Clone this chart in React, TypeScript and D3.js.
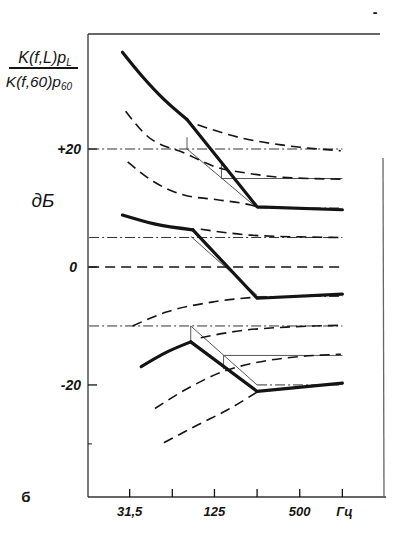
import React from "react";
import * as d3 from "d3";

// ---- data (frequency Hz, level dB) ----
const xTickFreqs = [31.5, 63, 125, 250, 500, 1000];
const xTickLabels = ["31,5", "", "125", "", "500", "Гц"];
const yTickValues = [20, 0, -20];
const yTickLabels = ["+20", "0", "-20"];
const yMinorTicks = [-30];

// thick (measured) curves: smooth low-frequency part, then straight segments from the knee
const thickTopSmooth: [number, number][] = [[28, 36.4], [39, 32.2], [55, 28.4], [80, 25.0]];
const thickTopStraight: [number, number][] = [[80, 25.0], [250, 10.2], [1000, 9.7]];
const thickMidSmooth: [number, number][] = [[28, 8.8], [47, 7.3], [88, 6.3]];
const thickMidStraight: [number, number][] = [[88, 6.3], [250, -5.3], [1000, -4.6]];
const thickBotSmooth: [number, number][] = [[38, -16.9], [58, -14.4], [85, -12.7]];
const thickBotStraight: [number, number][] = [[85, -12.7], [250, -21.1], [1000, -19.7]];

// dashed curves
const dashA: [number, number][] = [[95, 24.1], [191, 21.9], [370, 20.7], [975, 19.7]];
const dashB: [number, number][] = [[29.5, 26.4], [41, 22.4], [77, 19.3], [134, 16.8], [214, 15.9], [370, 15.2], [975, 14.9]];
const dashC: [number, number][] = [[30.5, 17.8], [47, 14.4], [76, 12.2], [131, 11.4], [225, 10.5], [250, 10.2]];
const dashD: [number, number][] = [[100, 6.4], [225, 5.4], [500, 5.1], [975, 5.0]];
const dashZero: [number, number][] = [[16.3, 0], [1000, 0]];
const dashE: [number, number][] = [[33, -10], [58, -7.6], [124, -5.9], [250, -5.1]];
const dashF: [number, number][] = [[100, -12], [191, -10.8], [400, -10.2], [975, -9.9]];
const dashG: [number, number][] = [[47.5, -24], [85, -20.3], [153, -17.5], [236, -16.3], [500, -15.2], [975, -14.8]];
const dashH: [number, number][] = [[55, -29.8], [95, -26.8], [155, -24.2], [250, -21.2]];

// dash-dot reference levels: [dB, fromHz, toHz]
const dashDotLevels: [number, number, number][] = [
  [20, 16.3, 1000], [5, 16.3, 1000], [-10, 16.3, 1000],
  [10, 250, 1000], [-5, 250, 1000], [-20, 250, 1000],
];

// thin construction lines
const thinLines: [number, number][][] = [
  [[80, 22], [80, 20], [250, 10]],
  [[140, 17.6], [140, 15], [1000, 15]],
  [[85, 5.2], [250, -4.8]],
  [[85, -10], [85, -12.7]],
  [[85, -10], [250, -20]],
  [[145, -17.3], [145, -15], [1000, -15]],
];

export default function App() {
  const x = d3.scaleLog().domain([16, 2000]).range([88, 385]);
  const y = d3.scaleLinear().domain([-39, 39.5]).range([497, 34]);
  const lin = d3.line<[number, number]>().x(d => x(d[0])).y(d => y(d[1]));
  const smooth = d3.line<[number, number]>().x(d => x(d[0])).y(d => y(d[1])).curve(d3.curveMonotoneX);
  const ink = "#141414";
  const dashed = [dashA, dashB, dashC, dashD, dashE, dashF, dashG, dashH];
  const thickPairs = [
    [thickTopSmooth, thickTopStraight],
    [thickMidSmooth, thickMidStraight],
    [thickBotSmooth, thickBotStraight],
  ];
  const font = "'Liberation Sans', Arial, sans-serif";

  return (
    <svg width={413} height={546} style={{ position: "absolute", left: 0, top: 0, background: "#fff" }}>
      <rect x={0} y={0} width={413} height={546} fill="#fff" />
      {/* frame */}
      <g stroke="#333" strokeWidth={1.3} fill="none">
        <line x1={88} y1={34} x2={380} y2={34} />
        <line x1={88} y1={34} x2={88} y2={497} />
        <line x1={88} y1={497} x2={386} y2={497} />
        <line x1={383} y1={158} x2={384} y2={497} stroke="#666" />
      </g>
      {/* y ticks */}
      {yTickValues.map((v, i) => (
        <g key={"yt" + i}>
          <line x1={88} x2={97} y1={y(v)} y2={y(v)} stroke={ink} strokeWidth={1.3} />
          <text x={i === 1 ? 77 : 81} y={y(v) + 5} textAnchor="end" fontFamily={font} fontWeight="bold"
            fontStyle="italic" fontSize={14} fill={ink}>{yTickLabels[i]}</text>
        </g>
      ))}
      {yMinorTicks.map((v, i) => (
        <line key={"ym" + i} x1={88} x2={92} y1={y(v)} y2={y(v)} stroke={ink} strokeWidth={1} />
      ))}
      {/* x ticks */}
      {xTickFreqs.map((f, i) => (
        <g key={"xt" + i}>
          <line x1={x(f)} x2={x(f)} y1={497} y2={489} stroke={ink} strokeWidth={1.3} />
          <text x={x(f) + (i === 5 ? 2 : 0)} y={516} textAnchor="middle" fontFamily={font} fontStyle="italic"
            fontWeight="bold" fontSize={13} fill={ink}>{xTickLabels[i]}</text>
        </g>
      ))}
      {/* dash-dot levels */}
      {dashDotLevels.map((l, i) => (
        <path key={"dd" + i} d={lin([[l[1], l[0]], [l[2], l[0]]]) || ""} fill="none" stroke="#333"
          strokeWidth={1} strokeDasharray="10,3,2,3" />
      ))}
      {/* thin construction lines */}
      {thinLines.map((pts, i) => (
        <path key={"th" + i} d={lin(pts) || ""} fill="none" stroke="#444" strokeWidth={0.9} />
      ))}
      {/* zero line */}
      <path d={lin(dashZero) || ""} fill="none" stroke={ink} strokeWidth={1.5} strokeDasharray="10,6" />
      {/* dashed curves */}
      {dashed.map((c, i) => (
        <path key={"ds" + i} d={smooth(c) || ""} fill="none" stroke={ink} strokeWidth={1.6} strokeDasharray="10,6" />
      ))}
      {/* thick curves */}
      {thickPairs.map((pair, i) => (
        <g key={"tk" + i} fill="none" stroke={ink} strokeWidth={3.2} strokeLinejoin="round" strokeLinecap="round">
          <path d={smooth(pair[0]) || ""} />
          <path d={lin(pair[1]) || ""} />
        </g>
      ))}
      {/* y-axis label (fraction) */}
      <g fontFamily={font} fontStyle="italic" fill={ink}>
        <text x={45} y={63} textAnchor="middle" fontSize={16}>
          K(f,L)p<tspan fontSize={10} dy={3}>L</tspan>
        </text>
        <line x1={9} x2={78} y1={68} y2={68} stroke={ink} strokeWidth={2} />
        <text x={39} y={87} textAnchor="middle" fontSize={15.5}>
          K(f,60)p<tspan fontSize={10} dy={3}>60</tspan>
        </text>
        <text x={43} y={207} textAnchor="middle" fontSize={19}>дБ</text>
      </g>
      <text x={26} y={502} textAnchor="middle" fontFamily={font} fontWeight="bold" fontSize={15} fill={ink}>б</text>
      <text x={375} y={17} textAnchor="middle" fontFamily={font} fontWeight="bold" fontSize={14} fill={ink}>-</text>
    </svg>
  );
}
